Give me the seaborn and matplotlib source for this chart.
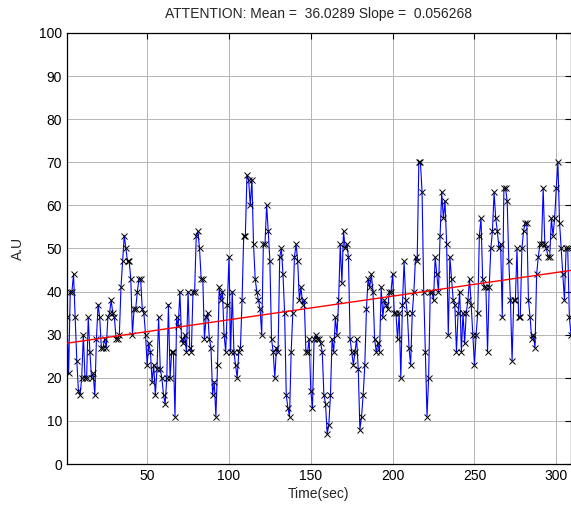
import numpy as np
import pandas as pd
import matplotlib
matplotlib.use("Agg")
import matplotlib.pyplot as plt
import seaborn as sns

# =========================
# DATA
# =========================

seg1 = [34, 21, 40, 40, 44, 34, 24, 17, 16, 20, 30, 20, 20, 34, 26, 20, 21, 16, 29, 37,
        34, 27, 27, 29, 27, 34]
seg2 = [35, 38, 35, 34, 29, 29, 30, 41, 47, 53, 50, 47, 47, 43, 30, 36, 36, 40, 43, 43,
        36, 35, 30, 23, 28, 26, 19, 23, 16, 22, 34]
seg3 = [22, 20, 16, 14, 20, 37, 20, 26, 26, 11, 34, 32, 40, 29, 28, 30, 26, 40, 27, 26,
        40, 40, 53, 54, 50, 43, 43, 29, 34, 35]
seg4 = [29, 27, 16, 19, 11, 23, 41, 38, 40, 30, 26, 37, 48, 26, 40, 26, 23, 20, 26, 27,
        38, 53, 53, 67, 66, 60, 66, 51, 43, 40, 38]
seg5 = [36, 30, 51, 51, 60, 54, 47, 29, 26, 20, 27, 26, 48, 50, 44, 35, 16, 13, 11, 26,
        35, 48, 51, 47, 38, 41, 37, 38, 26, 26, 29]
seg6 = [17, 13, 29, 30, 29, 29, 28, 26, 16, 14, 7, 9, 16, 29, 26, 34, 30, 38, 51, 42,
        54, 50, 51, 48, 29, 26, 23, 26, 29, 22]
seg7 = [8, 11, 16, 23, 36, 43, 41, 44, 40, 29, 26, 28, 26, 41, 34, 38, 37, 36, 40, 40,
        44, 35, 35, 29, 35, 20, 37, 47, 38, 35, 27]
seg8 = [23, 35, 40, 48, 47, 70, 70, 63, 40, 26, 11, 20, 40, 40, 38, 48, 44, 40, 53, 63,
        57, 61, 51, 30, 48, 43, 38, 37, 26, 35]
seg9 = [40, 26, 35, 28, 35, 38, 43, 37, 30, 23, 30, 35, 53, 57, 43, 41, 41, 26, 41, 50,
        54, 63, 57, 54, 50, 51, 34, 64, 64, 61, 47]
seg10 = [38, 24, 38, 38, 50, 34, 34, 50, 54, 56, 56, 38, 34, 29, 30, 27, 44, 48, 51, 51,
         64, 51, 50, 48, 48, 57, 53, 57, 64, 70, 56, 50, 44, 38, 50, 50, 34, 30]

attention = seg1 + seg2 + seg3 + seg4 + seg5 + seg6 + seg7 + seg8 + seg9 + seg10
time_sec = list(range(1, len(attention) + 1))

title_text = "ATTENTION: Mean =  36.0289 Slope =  0.056268"
x_ticks = [50, 100, 150, 200, 250, 300]
y_ticks = list(range(0, 101, 10))

df = pd.DataFrame({"t": time_sec, "v": attention})
coef = np.polyfit(df["t"], df["v"], 1)
df["fit"] = np.polyval(coef, df["t"])

# =========================
# PLOT
# =========================

sns.set_style("white")
plt.rcParams["font.family"] = ["Liberation Sans", "DejaVu Sans"]
plt.rcParams["font.size"] = 10

fig = plt.figure(figsize=(5.71, 5.13), dpi=100)
ax = fig.add_axes([0.1173, 0.0955, 0.8827, 0.8402])

sns.lineplot(data=df, x="t", y="v", ax=ax, color="blue", linewidth=0.8,
             marker="x", markersize=4, markeredgecolor="black",
             markeredgewidth=0.7, estimator=None, zorder=3)
sns.lineplot(data=df, x="t", y="fit", ax=ax, color="red", linewidth=1.0,
             estimator=None, zorder=4)

ax.set_xlim(1, len(attention))
ax.set_ylim(0, 100)
ax.set_xticks(x_ticks)
ax.set_yticks(y_ticks)
ax.grid(True, color="#b4b4b4", linewidth=0.7)
ax.set_axisbelow(True)
ax.tick_params(direction="in", length=4, width=0.8, top=True, right=True,
               labelsize=10, colors="black")
for s in ax.spines.values():
    s.set_color("black")
    s.set_linewidth(0.9)

ax.set_title(title_text, fontsize=10, pad=11)
ax.set_xlabel("Time(sec)", fontsize=10, labelpad=3)
ax.set_ylabel("A.U", fontsize=10, labelpad=10)

fig.savefig("out.png", dpi=100)
